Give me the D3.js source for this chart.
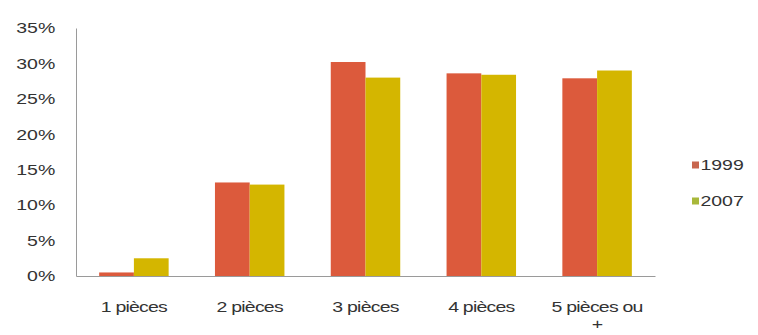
<!DOCTYPE html>
<html>
<head>
<meta charset="utf-8">
<script src="https://cdn.jsdelivr.net/npm/d3@7"></script>
<style>
  body { margin: 0; background: #fff; }
  text { font-family: "Liberation Sans", Arial, sans-serif; fill: #333; }
</style>
</head>
<body>
<div id="chart"></div>
<script>
// data
var categories = ["1 pièces", "2 pièces", "3 pièces", "4 pièces", "5 pièces ou +"];
var series = ["1999", "2007"];
var values1999 = [0.5, 13.2, 30.2, 28.6, 27.9];
var values2007 = [2.5, 12.9, 28.0, 28.4, 29.0];
var yTicks = [0, 5, 10, 15, 20, 25, 30, 35];

var svgWidth = 758;
var svgHeight = 335;
var margin = { top: 28, right: 103, bottom: 59, left: 76 };
var chartWidth = svgWidth - margin.left - margin.right;
var chartHeight = svgHeight - margin.top - margin.bottom;

var colors = { "1999": "#dc5a3c", "2007": "#d4b600" };
var legendColors = { "1999": "#c8664e", "2007": "#a8b83a" };
// the original picture is stretched sideways, so text gets widened too
var stretch = "scale(1.3,1)";

var svg = d3.select("#chart").append("svg")
  .attr("width", svgWidth)
  .attr("height", svgHeight);

var chartGroup = svg.append("g")
  .attr("transform", `translate(${margin.left}, ${margin.top})`);

var rows = categories.map(function(c, i) {
  return { cat: c, "1999": values1999[i], "2007": values2007[i] };
});

var x0 = d3.scaleBand().domain(categories).range([0, chartWidth]).paddingInner(0.4).paddingOuter(0.2);
var x1 = d3.scaleBand().domain(series).range([0, x0.bandwidth()]);
var y = d3.scaleLinear().domain([0, 35]).range([chartHeight, 0]);

// y axis
var leftAxis = d3.axisLeft(y).tickValues(yTicks).tickSize(0).tickPadding(16)
  .tickFormat(function(d) { return d + "%"; });
var yAxis = chartGroup.append("g").call(leftAxis);
yAxis.select(".domain").attr("stroke", "#9a9a9a");
yAxis.selectAll("text").style("font-size", "15px").attr("transform", stretch);

// bars
var groups = chartGroup.selectAll(".cat")
  .data(rows)
  .enter()
  .append("g")
  .attr("transform", d => `translate(${x0(d.cat)}, 0)`);

groups.selectAll("rect")
  .data(d => series.map(s => ({ key: s, value: d[s] })))
  .enter()
  .append("rect")
  .attr("x", d => x1(d.key))
  .attr("y", d => y(d.value))
  .attr("width", x1.bandwidth())
  .attr("height", d => chartHeight - y(d.value))
  .attr("fill", d => colors[d.key]);

// x axis
var bottomAxis = d3.axisBottom(x0).tickSize(0).tickPadding(25);
var xAxis = chartGroup.append("g")
  .attr("transform", `translate(0, ${chartHeight})`)
  .call(bottomAxis);
xAxis.select(".domain").attr("stroke", "#9a9a9a");
xAxis.selectAll("text").style("font-size", "15px").style("letter-spacing", "-0.6px")
  .attr("transform", stretch)
  .each(function(d) {
    var t = d3.select(this);
    if (d === "5 pièces ou +") {
      t.text(null);
      t.append("tspan").attr("x", 0).text("5 pièces ou");
      t.append("tspan").attr("x", 0).attr("dy", "1.15em").text("+");
    }
  });

// legend
var legend = svg.append("g").attr("transform", "translate(692, 165)");
series.forEach(function(s, i) {
  var row = legend.append("g").attr("transform", `translate(0, ${i * 36})`);
  row.append("rect").attr("x", 0).attr("y", -3.5).attr("width", 7).attr("height", 7)
    .attr("fill", legendColors[s]);
  row.append("text").attr("x", 6.5).attr("dy", "0.35em")
    .attr("transform", stretch)
    .style("font-size", "15px").text(s);
});
</script>
</body>
</html>
